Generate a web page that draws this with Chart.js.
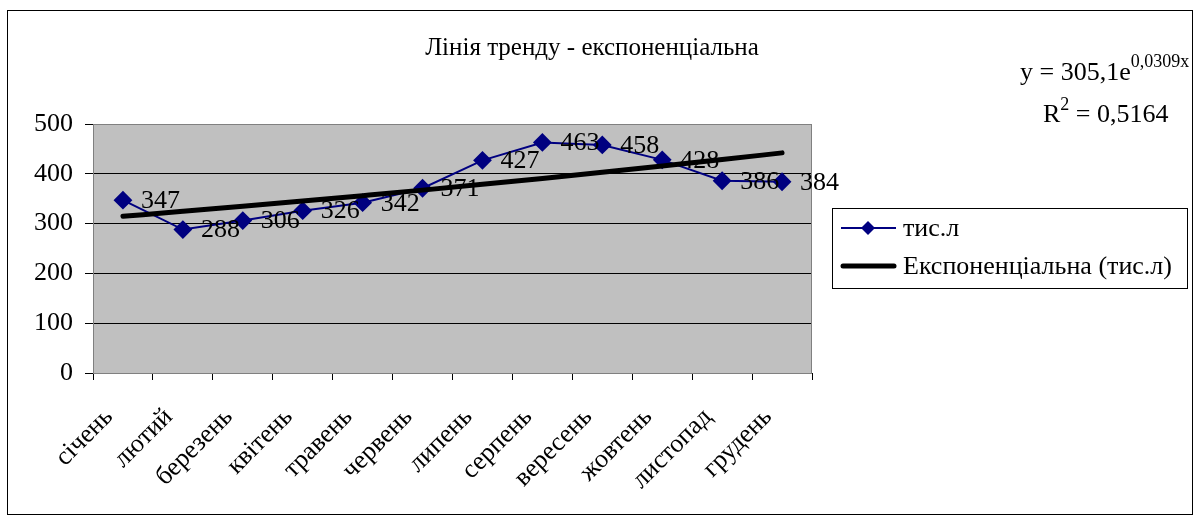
<!DOCTYPE html>
<html>
<head>
<meta charset="utf-8">
<script src="https://cdn.jsdelivr.net/npm/chart.js@4.4.1/dist/chart.umd.min.js"></script>
<style>
  html, body { margin: 0; padding: 0; background: #fff; }
  #wrap { width: 1199px; height: 518px; position: relative; }
</style>
</head>
<body>
<div id="wrap"><canvas id="trendChart"></canvas></div>
<script>
const months = ['січень', 'лютий', 'березень', 'квітень', 'травень', 'червень',
  'липень', 'серпень', 'вересень', 'жовтень', 'листопад', 'грудень'];
const volumes = [347, 288, 306, 326, 342, 371, 427, 463, 458, 428, 386, 384];
// trend from the equation shown on the chart: y = 305,1e^(0,0309x)
const trend = [314.7, 324.6, 334.7, 345.2, 356.1, 367.2, 378.8, 390.7, 402.9, 415.6, 428.6, 442.0];
const yTicks = [0, 100, 200, 300, 400, 500];

const serif = '"Liberation Serif", "Times New Roman", serif';
const font = (size) => ({ family: serif, size: size });

const decor = {
  id: 'decor',
  beforeDraw(chart) {
    const { ctx, chartArea: a } = chart;
    ctx.save();
    ctx.fillStyle = '#c0c0c0';
    ctx.fillRect(a.left, a.top, a.right - a.left, a.bottom - a.top);
    ctx.restore();
  },
  afterDatasetsDraw(chart) {
    const { ctx, chartArea: a } = chart;
    ctx.save();
    // plot frame
    ctx.strokeStyle = '#808080';
    ctx.lineWidth = 1;
    ctx.strokeRect(a.left + 0.5, a.top + 0.5, a.right - a.left - 1, a.bottom - a.top);

    // data labels
    ctx.fillStyle = '#000';
    ctx.font = '26px ' + serif;
    ctx.textBaseline = 'middle';
    ctx.textAlign = 'left';
    chart.getDatasetMeta(0).data.forEach((pt, i) => {
      ctx.fillText(String(volumes[i]), pt.x + 18, pt.y + 1);
    });

    // outer border
    ctx.strokeStyle = '#000';
    ctx.strokeRect(7.5, 10.5, 1185, 504);

    // title
    ctx.font = '25px ' + serif;
    ctx.textAlign = 'center';
    ctx.textBaseline = 'alphabetic';
    ctx.fillText('Лінія тренду - експоненціальна', 592, 55);

    // trend equation
    ctx.textAlign = 'left';
    ctx.font = '26px ' + serif;
    const p1 = 'y = 305,1e';
    ctx.fillText(p1, 1020, 80);
    const w1 = ctx.measureText(p1).width;
    ctx.font = '18px ' + serif;
    ctx.fillText('0,0309x', 1020 + w1, 67);
    ctx.font = '26px ' + serif;
    ctx.fillText('R', 1043, 122);
    const wr = ctx.measureText('R').width;
    ctx.font = '18px ' + serif;
    ctx.fillText('2', 1043 + wr, 110);
    const w2 = ctx.measureText('2').width;
    ctx.font = '26px ' + serif;
    ctx.fillText(' = 0,5164', 1043 + wr + w2, 122);

    // legend
    ctx.strokeStyle = '#000';
    ctx.lineWidth = 1;
    ctx.strokeRect(832.5, 208.5, 355, 80);
    ctx.strokeStyle = '#000080';
    ctx.lineWidth = 2;
    ctx.beginPath(); ctx.moveTo(841, 228); ctx.lineTo(896, 228); ctx.stroke();
    ctx.fillStyle = '#000080';
    ctx.beginPath();
    ctx.moveTo(868, 221); ctx.lineTo(875, 228); ctx.lineTo(868, 235); ctx.lineTo(861, 228);
    ctx.closePath(); ctx.fill();
    ctx.strokeStyle = '#000';
    ctx.lineWidth = 5;
    ctx.lineCap = 'round';
    ctx.beginPath(); ctx.moveTo(843, 266); ctx.lineTo(894, 266); ctx.stroke();
    ctx.fillStyle = '#000';
    ctx.font = '26px ' + serif;
    ctx.textBaseline = 'middle';
    ctx.fillText('тис.л', 903, 229);
    ctx.fillText('Експоненціальна (тис.л)', 903, 267);
    ctx.restore();
  }
};

new Chart(document.getElementById('trendChart'), {
  type: 'line',
  data: {
    labels: months,
    datasets: [
      {
        label: 'тис.л', data: volumes, borderColor: '#000080', backgroundColor: '#000080',
        borderWidth: 2, pointStyle: 'rectRot', pointRadius: 8, pointHoverRadius: 8, tension: 0, order: 2
      },
      {
        label: 'Експоненціальна (тис.л)', data: trend, borderColor: '#000', borderWidth: 5,
        pointRadius: 0, tension: 0.4, cubicInterpolationMode: 'monotone', borderCapStyle: 'round', order: 1
      }
    ]
  },
  options: {
    responsive: true, maintainAspectRatio: false, animation: false,
    events: [],
    layout: { padding: { left: 0, top: 124, right: 387, bottom: 0 } },
    plugins: { legend: { display: false }, title: { display: false }, tooltip: { enabled: false } },
    scales: {
      x: {
        offset: true,
        afterFit: (s) => { s.height = 145; },
        grid: { offset: true, drawOnChartArea: false, drawTicks: true, tickLength: 7, color: '#000' },
        border: { display: true, color: '#000' },
        ticks: { font: font(26), color: '#000', maxRotation: 45, minRotation: 45, padding: 22, labelOffset: -14, autoSkip: false }
      },
      y: {
        min: 0, max: 500,
        afterFit: (s) => { s.width = 93; },
        afterBuildTicks: (s) => { s.ticks = yTicks.map(v => ({ value: v })); },
        grid: { color: '#000', tickLength: 8, drawTicks: true },
        border: { display: true, color: '#000' },
        ticks: { font: font(26), color: '#000', padding: 12 }
      }
    }
  },
  plugins: [decor]
});
</script>
</body>
</html>
